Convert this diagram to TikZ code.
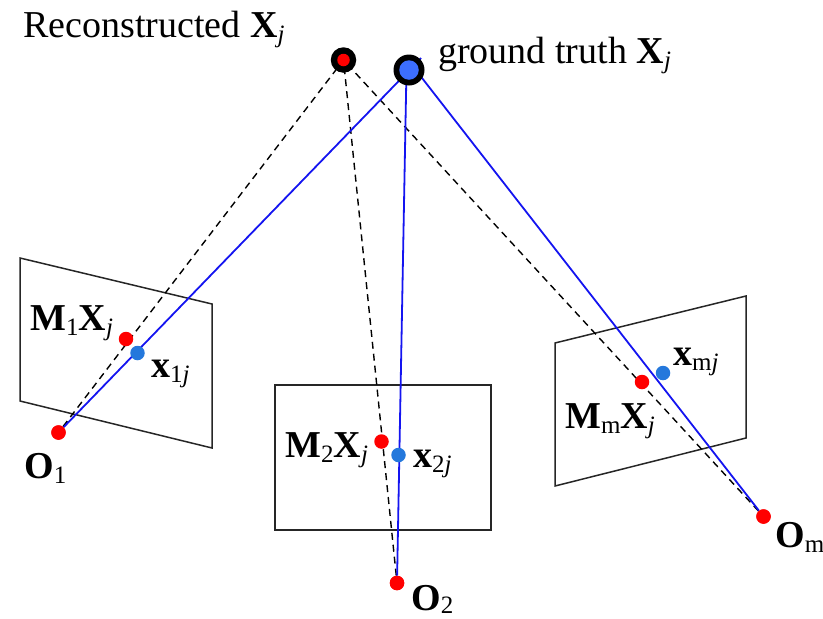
\documentclass[tikz,border=0pt]{standalone}
\usepackage{fontspec}
\setmainfont{Liberation Serif}
\newcommand{\lab}[3]{{\bfseries #1}{\fontsize{25}{27}\selectfont\raisebox{-5pt}{#2\itshape #3}}}
\definecolor{ptred}{RGB}{255,0,0}
\definecolor{ptblue}{RGB}{36,120,220}
\definecolor{rayblue}{RGB}{20,20,240}
\definecolor{gtblue}{RGB}{60,110,255}
\tikzset{
  every node/.style={font=\fontsize{38}{40}\selectfont, inner sep=0pt},
  plane/.style={draw=black!85, line width=1.5pt},
  redpt/.style={circle, fill=ptred, minimum size=14.5pt},
  bluept/.style={circle, fill=ptblue, minimum size=14.5pt},
  gray ray/.style={draw=black, line width=1.4pt, dash pattern=on 7pt off 5pt},
  blue ray/.style={draw=rayblue, line width=1.8pt},
  txt/.style={anchor=base west}
}
\begin{document}
\begin{tikzpicture}[x=1pt,y=-1pt]
\useasboundingbox (0,0) rectangle (823,619);
% image planes
\draw[plane] (20,258) -- (212,304) -- (212,448) -- (20,401) -- cycle;
\draw[plane] (275,385) rectangle (491,530);
\draw[plane] (555,343) -- (746,296) -- (746,438) -- (555,486) -- cycle;
% nodes
\node[redpt] (O1) at (58.5,432.5) {};
\node[redpt] (O2) at (397,583) {};
\node[redpt] (Om) at (763.5,516.5) {};
\coordinate (Ra) at (343.5,60);
\coordinate (Ga) at (421,58);
\coordinate (Gb) at (406.5,69);
\coordinate (Gc) at (415,69);
% rays
\draw[gray ray] (O1) -- (Ra);
\draw[gray ray] (O2) -- (Ra);
\draw[gray ray] (Om) -- (Ra);
\draw[blue ray] (O1) -- (Ga);
\draw[blue ray] (O2) -- (Gb);
\draw[blue ray] (Om) -- (Gc);
% points on top
\node[redpt] at (O1) {};
\node[redpt] at (O2) {};
\node[redpt] at (Om) {};
\node[circle, fill=black, minimum size=25.5pt] (R) at (343.5,60) {};
\node[circle, fill=black, minimum size=31pt] (G) at (409,70) {};
\node[circle, fill=ptred, minimum size=12.5pt] (Rin) at (R) {};
\node[circle, fill=gtblue, minimum size=19.5pt] (Gin) at (G) {};
\node[redpt] (p1) at (126,339) {};
\node[bluept] (q1) at (137.5,353) {};
\node[redpt] (p2) at (381.5,441.5) {};
\node[bluept] (q2) at (398.5,455) {};
\node[redpt] (pm) at (642,382) {};
\node[bluept] (qm) at (663,373) {};
% labels
\node[txt] (tR) at (23,37) {Reconstructed \lab{X}{}{j}};
\node[txt] (tG) at (438,63) {ground truth \lab{X}{}{j}};
\node[txt] (t1) at (30,330) {\lab{M}{1}{}\lab{X}{}{j}};
\node[txt] (t2) at (285,457) {\lab{M}{2}{}\lab{X}{}{j}};
\node[txt] (tm) at (565,428) {\lab{M}{m}{}\lab{X}{}{j}};
\node[txt] (u1) at (151,377) {\lab{x}{1}{j}};
\node[txt] (u2) at (413,467) {\lab{x}{2}{j}};
\node[txt] (um) at (673,365) {\lab{x}{m}{j}};
\node[txt] (o1) at (24,478) {\lab{O}{1}{}};
\node[txt] (o2) at (411,610) {{\bfseries O}{\fontsize{25}{27}\selectfont\raisebox{-3pt}{2}}};
\node[txt] (om) at (775,547) {\lab{O}{m}{}};
\end{tikzpicture}
\end{document}
